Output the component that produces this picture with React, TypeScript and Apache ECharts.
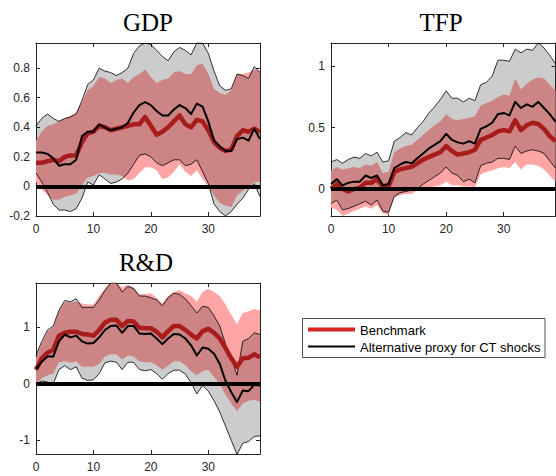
import React, { useEffect, useRef } from "react";
import * as echarts from "echarts";

const horizons = Array.from({ length: 40 }, (_, i) => i);

const gdpBench = [0.16,0.16,0.17,0.18,0.17,0.20,0.21,0.21,0.30,0.36,0.37,0.41,0.40,0.38,0.39,0.40,0.41,0.42,0.42,0.47,0.41,0.35,0.37,0.40,0.44,0.48,0.42,0.40,0.45,0.44,0.38,0.30,0.26,0.24,0.25,0.34,0.38,0.37,0.39,0.37];
const gdpAlt = [0.23,0.23,0.22,0.19,0.14,0.15,0.15,0.18,0.34,0.37,0.37,0.42,0.40,0.38,0.39,0.40,0.43,0.50,0.55,0.57,0.55,0.51,0.48,0.48,0.52,0.55,0.53,0.49,0.56,0.54,0.44,0.31,0.27,0.24,0.24,0.32,0.33,0.31,0.39,0.32];
const gdpGrayUp = [0.41,0.46,0.49,0.46,0.44,0.46,0.47,0.49,0.58,0.69,0.72,0.80,0.78,0.77,0.75,0.77,0.80,0.90,0.95,0.97,0.96,0.92,0.88,0.85,0.91,0.94,0.92,0.89,0.97,0.97,0.90,0.78,0.68,0.65,0.66,0.76,0.75,0.73,0.81,0.77];
const gdpGrayLo = [0.09,0.03,-0.04,-0.12,-0.16,-0.16,-0.17,-0.15,-0.08,0.03,0.01,0.08,0.05,0.02,0.03,0.05,0.09,0.15,0.21,0.22,0.20,0.16,0.14,0.16,0.18,0.18,0.14,0.15,0.18,0.10,0.02,-0.12,-0.17,-0.20,-0.17,-0.12,-0.08,-0.02,0.02,-0.07];
const gdpRedUp = [0.31,0.37,0.41,0.42,0.44,0.46,0.48,0.50,0.57,0.65,0.68,0.74,0.73,0.70,0.72,0.73,0.70,0.74,0.76,0.79,0.74,0.70,0.72,0.73,0.77,0.78,0.76,0.76,0.82,0.83,0.76,0.66,0.63,0.62,0.65,0.76,0.76,0.77,0.79,0.78];
const gdpRedLo = [0.03,-0.02,-0.06,-0.09,-0.09,-0.07,-0.06,-0.05,0.01,0.06,0.07,0.09,0.09,0.08,0.08,0.07,0.04,0.05,0.09,0.13,0.13,0.11,0.05,0.06,0.10,0.15,0.10,0.07,0.11,0.05,0.0,-0.06,-0.11,-0.13,-0.14,-0.06,-0.03,0.0,0.03,0.03];

const tfpBench = [0.0,0.04,0.0,-0.02,0.0,0.01,0.05,0.05,0.08,0.02,0.02,0.14,0.16,0.17,0.18,0.21,0.24,0.26,0.28,0.30,0.35,0.31,0.28,0.29,0.30,0.32,0.40,0.42,0.44,0.47,0.48,0.47,0.56,0.48,0.52,0.54,0.53,0.49,0.43,0.39];
const tfpAlt = [0.04,0.08,0.03,0.05,0.06,0.06,0.11,0.09,0.11,0.03,0.04,0.17,0.20,0.22,0.21,0.25,0.29,0.33,0.36,0.39,0.45,0.40,0.38,0.37,0.39,0.37,0.49,0.51,0.54,0.61,0.62,0.60,0.71,0.66,0.69,0.67,0.71,0.66,0.61,0.55];
const tfpGrayUp = [0.22,0.24,0.21,0.24,0.26,0.25,0.29,0.27,0.30,0.22,0.23,0.39,0.42,0.46,0.44,0.50,0.55,0.62,0.67,0.73,0.80,0.74,0.74,0.71,0.74,0.72,0.85,0.87,0.92,1.05,1.05,1.04,1.14,1.11,1.14,1.13,1.19,1.15,1.09,1.02];
const tfpGrayLo = [-0.12,-0.09,-0.17,-0.16,-0.14,-0.12,-0.10,-0.13,-0.09,-0.18,-0.19,-0.06,-0.03,-0.02,-0.01,0.00,0.04,0.07,0.10,0.13,0.18,0.13,0.11,0.06,0.08,0.05,0.19,0.21,0.22,0.25,0.25,0.24,0.35,0.29,0.31,0.32,0.31,0.29,0.23,0.17];
const tfpRedUp = [0.15,0.18,0.16,0.17,0.18,0.17,0.20,0.19,0.22,0.13,0.14,0.30,0.33,0.35,0.36,0.40,0.44,0.48,0.52,0.55,0.61,0.57,0.56,0.57,0.58,0.59,0.68,0.70,0.72,0.75,0.77,0.76,0.90,0.81,0.86,0.89,0.91,0.90,0.85,0.80];
const tfpRedLo = [-0.15,-0.17,-0.22,-0.20,-0.18,-0.16,-0.14,-0.16,-0.13,-0.20,-0.21,-0.07,-0.05,-0.04,-0.04,-0.01,0.0,0.01,0.02,0.03,0.06,0.03,0.03,0.02,0.02,0.01,0.12,0.14,0.15,0.17,0.18,0.17,0.22,0.16,0.20,0.20,0.19,0.16,0.11,0.06];

const rdBench = [0.25,0.45,0.55,0.60,0.85,0.90,0.92,0.92,0.88,0.87,0.85,0.95,1.08,1.13,1.13,1.02,1.11,1.10,0.99,0.98,0.98,0.92,0.82,0.93,1.02,1.02,0.95,0.87,0.80,0.93,0.97,0.90,0.80,0.63,0.45,0.30,0.45,0.46,0.52,0.47];
const rdAlt = [0.25,0.39,0.48,0.48,0.75,0.87,0.82,0.85,0.75,0.71,0.72,0.82,0.95,1.02,1.03,0.90,1.02,1.02,0.89,0.88,0.89,0.80,0.70,0.80,0.88,0.87,0.80,0.68,0.50,0.64,0.62,0.53,0.35,0.05,-0.15,-0.32,-0.12,-0.13,-0.02,-0.03];
const rdGrayUp = [0.50,0.75,0.95,1.02,1.30,1.47,1.45,1.50,1.35,1.35,1.35,1.48,1.65,1.78,1.78,1.62,1.72,1.68,1.55,1.55,1.52,1.48,1.38,1.52,1.60,1.58,1.50,1.38,1.25,1.37,1.35,1.20,1.02,0.70,0.45,0.15,0.75,0.80,0.90,0.87];
const rdGrayLo = [0.00,0.05,0.03,0.00,0.25,0.32,0.25,0.30,0.10,0.06,0.07,0.18,0.37,0.40,0.38,0.25,0.38,0.38,0.25,0.23,0.25,0.18,0.08,0.18,0.24,0.24,0.17,0.02,-0.18,-0.03,-0.13,-0.30,-0.50,-0.75,-1.00,-1.25,-1.05,-1.02,-0.93,-0.92];
const rdRedUp = [0.45,0.72,0.92,1.00,1.28,1.44,1.44,1.45,1.42,1.40,1.40,1.55,1.68,1.78,1.78,1.70,1.75,1.70,1.58,1.58,1.60,1.52,1.42,1.55,1.62,1.65,1.60,1.55,1.45,1.62,1.68,1.62,1.55,1.40,1.22,1.05,1.25,1.28,1.32,1.30];
const rdRedLo = [0.00,0.10,0.15,0.18,0.38,0.40,0.37,0.40,0.30,0.30,0.30,0.35,0.48,0.52,0.52,0.43,0.50,0.48,0.40,0.38,0.38,0.33,0.25,0.32,0.40,0.40,0.33,0.22,0.15,0.22,0.25,0.12,0.00,-0.20,-0.35,-0.48,-0.35,-0.30,-0.28,-0.32];

const xTicks = [0, 10, 20, 30];
const gdpTicks = [-0.2, 0, 0.2, 0.4, 0.6, 0.8];
const tfpTicks = [0, 0.5, 1];
const rdTicks = [-1, 0, 1];

const panelTitles = ["GDP", "TFP", "R&D"];
const legendLabels = ["Benchmark", "Alternative proxy for CT shocks"];

const AXIS_COLOR = "#262626";
const FONT = "Liberation Sans";

export default function App() {
  const ref = useRef<HTMLDivElement>(null);
  useEffect(() => {
    if (!ref.current) return;
    const chart = echarts.init(ref.current, null, { renderer: "svg" });

    const panels = [
      { title: panelTitles[0], grid: { left: 36, top: 43, width: 224, height: 173 }, ymin: -0.2, ymax: 0.97, yTicks: gdpTicks,
        bench: gdpBench, alt: gdpAlt, gu: gdpGrayUp, gl: gdpGrayLo, ru: gdpRedUp, rl: gdpRedLo, tx: 148, ty: 22 },
      { title: panelTitles[1], grid: { left: 331, top: 43, width: 224.5, height: 173 }, ymin: -0.22, ymax: 1.19, yTicks: tfpTicks,
        bench: tfpBench, alt: tfpAlt, gu: tfpGrayUp, gl: tfpGrayLo, ru: tfpRedUp, rl: tfpRedLo, tx: 441, ty: 22 },
      { title: panelTitles[2], grid: { left: 36, top: 283, width: 224, height: 171 }, ymin: -1.24, ymax: 1.78, yTicks: rdTicks,
        bench: rdBench, alt: rdAlt, gu: rdGrayUp, gl: rdGrayLo, ru: rdRedUp, rl: rdRedLo, tx: 146, ty: 262 },
    ];

    const grids: any[] = [];
    const xAxes: any[] = [];
    const yAxes: any[] = [];
    const series: any[] = [];
    const graphics: any[] = [];

    const band = (k: number, up: number[], lo: number[], fill: string) => ({
      type: "custom",
      xAxisIndex: 2 * k,
      yAxisIndex: 2 * k,
      data: [[0, 0]],
      silent: true,
      clip: true,
      renderItem: (params: any, api: any) => {
        const pts: number[][] = [];
        for (let i = 0; i < up.length; i++) pts.push(api.coord([horizons[i], up[i]]));
        for (let i = lo.length - 1; i >= 0; i--) pts.push(api.coord([horizons[i], lo[i]]));
        return { type: "polygon", shape: { points: pts }, style: { fill } };
      },
    });

    const line = (k: number, vals: number[], color: string, width: number, extra: any = {}) => ({
      type: "line",
      xAxisIndex: 2 * k,
      yAxisIndex: 2 * k,
      data: vals.map((v, i) => [horizons[i], v]),
      symbol: "none",
      silent: true,
      lineStyle: { color, width, join: "round" },
      ...extra,
    });

    panels.forEach((p, k) => {
      grids.push({ ...p.grid, show: false, containLabel: false });
      const xBase = { type: "value", gridIndex: k, min: 0, max: 39, splitLine: { show: false },
        axisLine: { show: true, onZero: false, lineStyle: { color: AXIS_COLOR, width: 1 } } };
      const yBase = { type: "value", gridIndex: k, min: p.ymin, max: p.ymax, splitLine: { show: false },
        axisLine: { show: true, onZero: false, lineStyle: { color: AXIS_COLOR, width: 1 } } };
      xAxes.push({ ...xBase, position: "bottom",
        axisTick: { show: true, inside: true, length: 4, customValues: xTicks, lineStyle: { color: AXIS_COLOR } },
        axisLabel: { show: true, customValues: xTicks, margin: 7, color: AXIS_COLOR, fontFamily: FONT, fontSize: 12 } });
      xAxes.push({ ...xBase, position: "top",
        axisTick: { show: true, inside: true, length: 4, customValues: xTicks, lineStyle: { color: AXIS_COLOR } },
        axisLabel: { show: false } });
      yAxes.push({ ...yBase, position: "left",
        axisTick: { show: true, inside: true, length: 4, customValues: p.yTicks, lineStyle: { color: AXIS_COLOR } },
        axisLabel: { show: true, customValues: p.yTicks, margin: 6, color: AXIS_COLOR, fontFamily: FONT, fontSize: 12 } });
      yAxes.push({ ...yBase, position: "right",
        axisTick: { show: true, inside: true, length: 4, customValues: p.yTicks, lineStyle: { color: AXIS_COLOR } },
        axisLabel: { show: false } });

      series.push(band(k, p.ru, p.rl, "#FFA5A5"));
      series.push(band(k, p.gu, p.gl, "rgba(0,0,0,0.2)"));
      series.push(line(k, p.gu, "#000", 0.8));
      series.push(line(k, p.gl, "#000", 0.8, {
        markLine: { silent: true, symbol: "none", label: { show: false },
          lineStyle: { color: "#000", width: 4, type: "solid" }, data: [{ yAxis: 0 }] },
      }));
      series.push(line(k, p.bench, "#A81C1C", 4.5));
      series.push(line(k, p.alt, "#000", 2));

      graphics.push({ type: "text", x: p.tx, y: p.ty, silent: true,
        style: { text: p.title, fill: "#000", font: "25px 'Liberation Serif'", textAlign: "center", textVerticalAlign: "middle" } });
    });

    graphics.push({ type: "rect", shape: { x: 302.5, y: 318.5, width: 242.5, height: 39 },
      style: { fill: "#fff", stroke: AXIS_COLOR, lineWidth: 0.8 }, silent: true });
    graphics.push({ type: "line", shape: { x1: 308, y1: 329.5, x2: 355, y2: 329.5 }, style: { stroke: "#D42424", lineWidth: 4 }, silent: true });
    graphics.push({ type: "line", shape: { x1: 308, y1: 346.5, x2: 355, y2: 346.5 }, style: { stroke: "#000", lineWidth: 2 }, silent: true });
    graphics.push({ type: "text", x: 360, y: 330, silent: true,
      style: { text: legendLabels[0], fill: "#000", font: `13px '${FONT}'`, textAlign: "left", textVerticalAlign: "middle" } });
    graphics.push({ type: "text", x: 360, y: 347, silent: true,
      style: { text: legendLabels[1], fill: "#000", font: `13px '${FONT}'`, textAlign: "left", textVerticalAlign: "middle" } });

    chart.setOption({
      animation: false,
      backgroundColor: "#fff",
      grid: grids,
      xAxis: xAxes,
      yAxis: yAxes,
      series,
      graphic: graphics,
    });
    return () => chart.dispose();
  }, []);
  return <div ref={ref} style={{ position: "absolute", left: 0, top: 0, width: 556, height: 476 }} />;
}
